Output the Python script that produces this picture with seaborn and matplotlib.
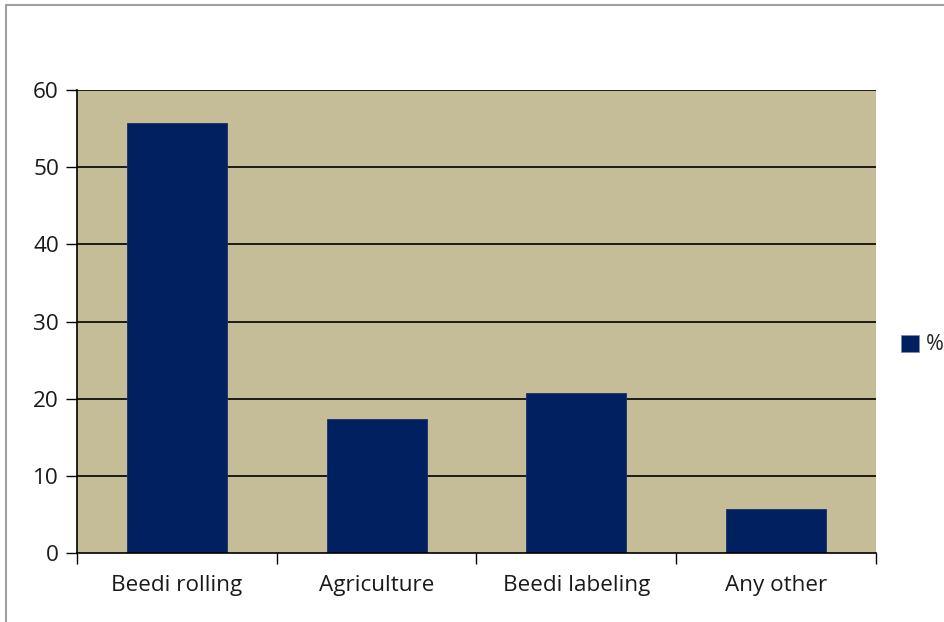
import matplotlib
matplotlib.use("Agg")
import matplotlib.pyplot as plt
import seaborn as sns
import pandas as pd
from matplotlib.lines import Line2D

categories = ["Beedi rolling", "Agriculture", "Beedi labeling", "Any other"]
values = [55.7, 17.4, 20.7, 5.7]
series_name = "%"
yticks = [0, 10, 20, 30, 40, 50, 60]

df = pd.DataFrame({"category": categories, "value": values, "series": series_name})

sns.set_theme(style="white")
plt.rcParams['font.family'] = ['Open Sans', 'DejaVu Sans']

FS = 16.2
fig = plt.figure(figsize=(9.45, 6.22), dpi=100)
ax = fig.add_axes([77/945, 1-553/622, (876-77)/945, (553-90)/622])
ax.set_facecolor("#C4BD97")

sns.barplot(data=df, x="category", y="value", hue="series", palette=["#002060"],
            width=0.5, ax=ax, saturation=1, legend=True, edgecolor="#1a2f6a", linewidth=0.6)

ax.set_ylim(0, 60)
ax.set_xlim(-0.5, 3.5)
ax.set_yticks(yticks)
ax.set_yticklabels([str(t) for t in yticks], fontsize=FS, color="#1a1a1a")
for t in yticks[1:]:
    ax.axhline(t, color="black", lw=1.2, zorder=0.5)
ax.set_axisbelow(True)
ax.set_xlabel("")
ax.set_ylabel("")
ax.tick_params(axis="x", which="major", length=0, labelsize=FS, pad=16, labelcolor="#1a1a1a")
ax.set_xticks([-0.5, 0.5, 1.5, 2.5, 3.5], minor=True)
ax.tick_params(axis="x", which="minor", length=8, width=1, color="black", direction="out", bottom=True)
ax.tick_params(axis="y", length=8, width=1, color="black", direction="out", left=True, pad=5)
for s in ["top", "right"]:
    ax.spines[s].set_visible(False)
for s in ["left", "bottom"]:
    ax.spines[s].set_color("black")
    ax.spines[s].set_linewidth(1.2)

leg = ax.get_legend()
if leg is not None:
    leg.remove()
handles = [plt.Rectangle((0, 0), 1, 1, facecolor="#002060", edgecolor="#7f8aa8", lw=0.5)]
fig.legend(handles, [series_name], loc="center left", bbox_to_anchor=(901/945, 1-345/622),
           frameon=False, fontsize=FS - 0.8, handlelength=0.85, handleheight=0.85, handletextpad=0.3,
           borderaxespad=0, borderpad=0)

# outer gray frame
fig.add_artist(Line2D([6/945, 1], [1-5/622, 1-5/622], transform=fig.transFigure, color="#a0a0a0", lw=1.5))
fig.add_artist(Line2D([6/945, 6/945], [0, 1-5/622], transform=fig.transFigure, color="#a0a0a0", lw=1.5))

fig.savefig("out.png", dpi=100)
